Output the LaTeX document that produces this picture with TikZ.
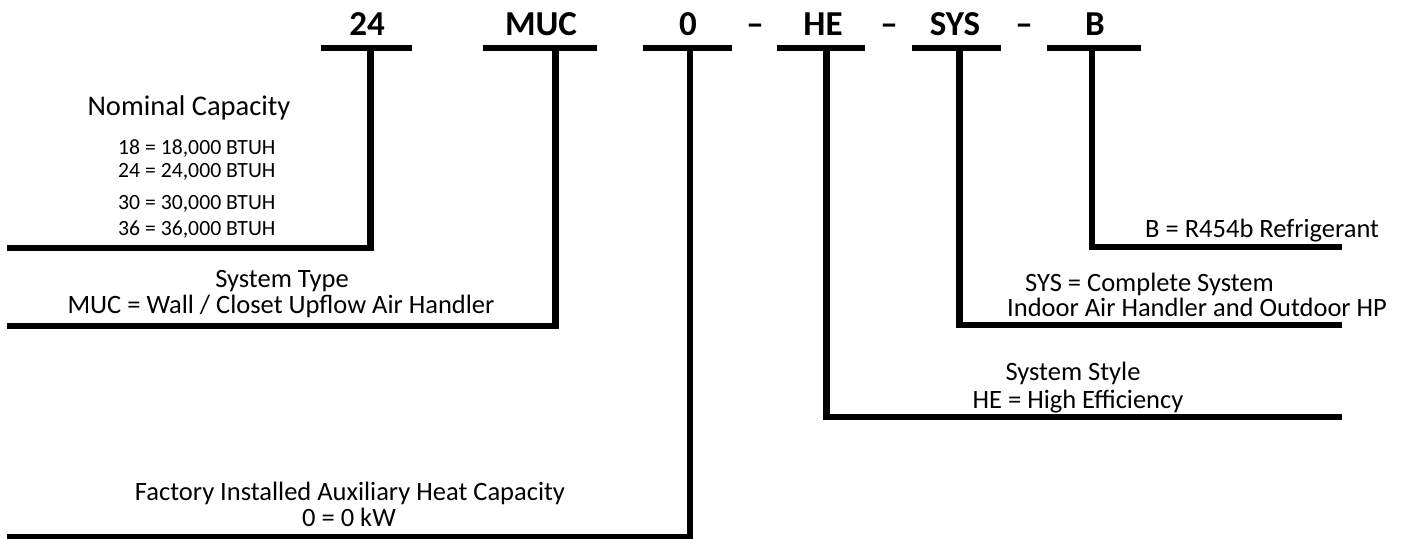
\documentclass[tikz,border=0pt]{standalone}
\usepackage{fontspec}
\setmainfont{Carlito}
\begin{document}
\begin{tikzpicture}[x=1pt,y=-1pt,
  code/.style={font=\bfseries\fontsize{35}{40}\selectfont, inner sep=0pt, anchor=base},
  lbl/.style={font=\fontsize{26.5}{30}\selectfont, inner sep=0pt, anchor=base},
  head/.style={font=\fontsize{28.5}{32}\selectfont, inner sep=0pt, anchor=base},
  sm/.style={font=\fontsize{21.7}{26}\selectfont, inner sep=0pt, anchor=base west},
  bar/.style={line width=6.5pt, line cap=butt},
  lead/.style={line width=6.5pt, line cap=butt, line join=miter}]
\useasboundingbox (0,0) rectangle (1404,538);
% code letters
\node[code] (c24)  at (367,35)  {24};
\node[code] (cmuc) at (541,35)  {MUC};
\node[code] (c0)   at (688,35)  {0};
\node[code] (d1)   at (755,35)  {\textendash};
\node[code] (che)  at (823,35)  {HE};
\node[code] (d2)   at (889,35)  {\textendash};
\node[code] (csys) at (955,35)  {SYS};
\node[code] (d3)   at (1024,35) {\textendash};
\node[code] (cb)   at (1095,35) {B};
% bars
\coordinate (b1l) at (321,48);  \coordinate (b1r) at (412,48);
\coordinate (b2l) at (483,48);  \coordinate (b2r) at (597,48);
\coordinate (b3l) at (643,48);  \coordinate (b3r) at (732,48);
\coordinate (b4l) at (777,48);  \coordinate (b4r) at (865,48);
\coordinate (b5l) at (912,48);  \coordinate (b5r) at (1001,48);
\coordinate (b6l) at (1047,48); \coordinate (b6r) at (1141,48);
\draw[bar] (b1l) -- (b1r);
\draw[bar] (b2l) -- (b2r);
\draw[bar] (b3l) -- (b3r);
\draw[bar] (b4l) -- (b4r);
\draw[bar] (b5l) -- (b5r);
\draw[bar] (b6l) -- (b6r);
% stems and leaders
\coordinate (s1) at (370.5,48);  \coordinate (e1) at (7,248);
\coordinate (s2) at (555.5,48);  \coordinate (e2) at (7,326);
\coordinate (s3) at (690,48);    \coordinate (e3) at (7,537);
\coordinate (s4) at (826.5,48);  \coordinate (e4) at (1342,417);
\coordinate (s5) at (959.5,48);  \coordinate (e5) at (1342,325);
\coordinate (s6) at (1092,48);   \coordinate (e6) at (1342,247);
\draw[lead] (e1) -| (s1);
\draw[lead] (e2) -| (s2);
\draw[lead] (e3) -| (s3);
\draw[lead] (e4) -| (s4);
\draw[lead] (e5) -| (s5);
\draw[lead] (e6) -| (s6);
% labels
\node[head] (tnom) at (189,115) {Nominal Capacity};
\node[sm] (t18) at (118,154) {18 = 18,000 BTUH};
\node[sm] (t24) at (118,177) {24 = 24,000 BTUH};
\node[sm] (t30) at (118,209) {30 = 30,000 BTUH};
\node[sm] (t36) at (118,235) {36 = 36,000 BTUH};
\node[lbl] (ttype) at (282,287) {System Type};
\node[lbl] (tmuc) at (281,313) {MUC = Wall / Closet Upflow Air Handler};
\node[lbl, anchor=base west] (tb) at (1145,237) {B = R454b Refrigerant};
\node[lbl, anchor=base west] (tsys) at (1025,291) {SYS = Complete System};
\node[lbl, anchor=base west] (tind) at (1007,316) {Indoor Air Handler and Outdoor HP};
\node[lbl] (tsty) at (1073,380) {System Style};
\node[lbl] (the) at (1078,408) {HE = High Efficiency};
\node[lbl] (tfac) at (350,500) {Factory Installed Auxiliary Heat Capacity};
\node[lbl] (tkw) at (349,526) {0 = 0 kW};
\end{tikzpicture}
\end{document}
